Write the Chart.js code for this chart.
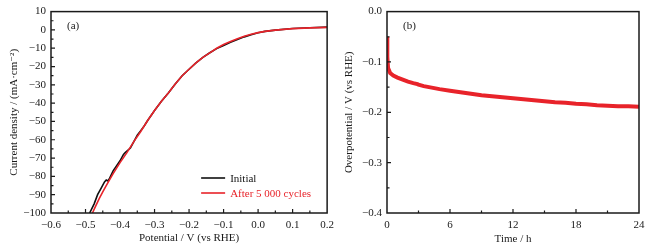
<!DOCTYPE html>
<html>
<head>
<meta charset="utf-8">
<script src="https://cdn.jsdelivr.net/npm/chart.js@4"></script>
<style>
  html, body { margin: 0; padding: 0; background: #fff; }
  #wrap { position: relative; width: 654px; height: 252px; overflow: hidden; }
  .pane { position: absolute; top: 0; height: 252px; }
  #paneA { left: 0; width: 340px; }
  #paneB { left: 335px; width: 319px; }
</style>
</head>
<body>
<div id="wrap">
  <div class="pane" id="paneA"><canvas id="chartA"></canvas></div>
  <div class="pane" id="paneB"><canvas id="chartB"></canvas></div>
</div>
<script>
// (a) polarization curves, potential V vs RHE / current density mA cm-2
const initialV = [-0.488, -0.475, -0.465, -0.455, -0.445, -0.44, -0.435, -0.43, -0.42, -0.40, -0.39, -0.385, -0.37, -0.36, -0.35, -0.34, -0.33, -0.32, -0.30, -0.28, -0.26, -0.24, -0.22, -0.20, -0.18, -0.16, -0.14, -0.12, -0.10, -0.08, -0.06, -0.04, -0.02, 0.00, 0.02, 0.05, 0.10, 0.15, 0.20];
const initialJ = [-100, -95, -90, -86.5, -83, -82, -82.5, -81, -77, -71.5, -68, -67, -64.5, -61, -57.5, -55, -52.5, -49.5, -44, -39, -34.5, -29.5, -25, -21.5, -18, -15, -12.5, -10.2, -8.5, -6.8, -5.2, -3.8, -2.6, -1.6, -0.8, -0.1, 0.8, 1.2, 1.5];

const cycledV = [-0.48, -0.47, -0.46, -0.45, -0.44, -0.42, -0.40, -0.38, -0.36, -0.34, -0.32, -0.30, -0.28, -0.26, -0.24, -0.22, -0.20, -0.18, -0.16, -0.14, -0.12, -0.10, -0.08, -0.06, -0.04, -0.02, 0.00, 0.02, 0.05, 0.10, 0.15, 0.20];
const cycledJ = [-100, -96, -92, -88.5, -85, -78.5, -72.5, -67, -61, -55.5, -49.5, -44, -39, -34.5, -29.5, -25, -21.5, -18, -15, -12.5, -10, -8, -6.3, -4.8, -3.5, -2.4, -1.5, -0.8, -0.1, 0.7, 1.1, 1.4];

// (b) stability test, time h / overpotential V vs RHE
const timeH = [0, 0.03, 0.1, 0.3, 0.6, 1, 1.5, 2, 2.5, 2.9, 3.0, 3.5, 4, 5, 6, 7, 8, 9, 10, 11, 12, 13, 14, 15, 16, 17, 18, 19, 20, 21, 22, 23, 24];
const overpot = [-0.05, -0.09, -0.112, -0.122, -0.127, -0.131, -0.135, -0.139, -0.142, -0.144, -0.145, -0.148, -0.150, -0.154, -0.157, -0.160, -0.163, -0.166, -0.168, -0.170, -0.172, -0.174, -0.176, -0.178, -0.180, -0.181, -0.183, -0.184, -0.186, -0.187, -0.188, -0.188, -0.189];

const serif = "'Liberation Serif', 'DejaVu Serif', serif";
const ink = '#1a1a1a';
const red = '#e8232a';

function pts(xs, ys) { return xs.map((x, i) => ({ x: x, y: ys[i] })); }
function fmt(v, dec) {
  const s = Math.abs(v).toFixed(dec);
  return (v < -1e-9 ? '\u2212' : '') + s;
}

// box + inward major/minor ticks + panel letter
const frame = {
  id: 'frame',
  afterDatasetsDraw(chart, args, o) {
    const { ctx, chartArea: a, scales } = chart;
    const x = scales.x, y = scales.y;
    ctx.save();
    ctx.strokeStyle = ink;
    ctx.lineWidth = 1.2;
    ctx.beginPath();
    let n = Math.round((x.max - x.min) / (o.xStep / 2));
    for (let i = 1; i < n; i++) {
      const px = x.getPixelForValue(x.min + i * o.xStep / 2);
      const len = i % 2 === 0 ? 4 : 2.5;
      ctx.moveTo(px, a.bottom);
      ctx.lineTo(px, a.bottom - len);
    }
    n = Math.round((y.max - y.min) / (o.yStep / 2));
    for (let i = 1; i < n; i++) {
      const py = y.getPixelForValue(y.min + i * o.yStep / 2);
      const len = i % 2 === 0 ? 4 : 2.5;
      ctx.moveTo(a.left, py);
      ctx.lineTo(a.left + len, py);
    }
    ctx.stroke();
    ctx.lineWidth = 1.5;
    ctx.strokeRect(a.left, a.top, a.right - a.left, a.bottom - a.top);
    ctx.fillStyle = ink;
    ctx.font = '11px ' + serif;
    ctx.textBaseline = 'middle';
    ctx.fillText(o.label, a.left + 16, a.top + 15);
    if (o.legend) {
      const ds = chart.data.datasets;
      let ly = a.bottom - 35;
      const lx = a.right - 126;
      ds.forEach(d => {
        ctx.strokeStyle = d.borderColor;
        ctx.lineWidth = 1.6;
        ctx.beginPath();
        ctx.moveTo(lx, ly);
        ctx.lineTo(lx + 24, ly);
        ctx.stroke();
        ctx.fillStyle = d.borderColor;
        ctx.fillText(d.label, lx + 29, ly + 1);
        ly += 15;
      });
    }
    ctx.restore();
  }
};

function axisTitle(text, pad) {
  return { display: true, text: text, color: ink, font: { family: serif, size: 11 }, padding: pad };
}

const chartA = new Chart(document.getElementById('chartA'), {
  type: 'line',
  data: {
    datasets: [
      { label: 'Initial', data: pts(initialV, initialJ), borderColor: '#111', borderWidth: 1.6, pointRadius: 0, order: 1 },
      { label: 'After 5 000 cycles', data: pts(cycledV, cycledJ), borderColor: red, borderWidth: 1.6, pointRadius: 0, order: 0 }
    ]
  },
  options: {
    responsive: true,
    maintainAspectRatio: false,
    animation: false,
    devicePixelRatio: 1,
    layout: { padding: { top: 10, right: 11, left: 0, bottom: 0 } },
    plugins: {
      legend: { display: false },
      tooltip: { enabled: false },
      frame: { label: '(a)', xStep: 0.1, yStep: 10, legend: true }
    },
    scales: {
      x: {
        type: 'linear', min: -0.6, max: 0.2,
        grid: { display: false, drawTicks: false },
        border: { display: false },
        ticks: { stepSize: 0.1, padding: 6, color: ink, font: { family: serif, size: 11 }, callback: v => fmt(v, 1) },
        title: axisTitle('Potential / V (vs RHE)', { top: 0, bottom: 7 }),
        afterFit: s => { s.height = 39; }
      },
      y: {
        type: 'linear', min: -100, max: 10,
        grid: { display: false, drawTicks: false },
        border: { display: false },
        ticks: { stepSize: 10, padding: 5, color: ink, font: { family: serif, size: 11 }, callback: v => fmt(v, 0) },
        title: axisTitle('Current density / (mA\u00b7cm\u207b\u00b2)', { top: 8, bottom: 0 }),
        afterFit: s => { s.width = 51; }
      }
    }
  },
  plugins: [frame]
});

const chartB = new Chart(document.getElementById('chartB'), {
  type: 'line',
  data: {
    datasets: [
      { label: 'Overpotential', data: pts(timeH, overpot), borderColor: red, borderWidth: 4, pointRadius: 0 }
    ]
  },
  options: {
    responsive: true,
    maintainAspectRatio: false,
    animation: false,
    devicePixelRatio: 1,
    layout: { padding: { top: 10, right: 15, left: 0, bottom: 0 } },
    plugins: {
      legend: { display: false },
      tooltip: { enabled: false },
      frame: { label: '(b)', xStep: 6, yStep: 0.1, legend: false }
    },
    scales: {
      x: {
        type: 'linear', min: 0, max: 24,
        grid: { display: false, drawTicks: false },
        border: { display: false },
        ticks: { stepSize: 6, padding: 6, color: ink, font: { family: serif, size: 11 }, callback: v => fmt(v, 0) },
        title: axisTitle('Time / h', { top: 0, bottom: 6 }),
        afterFit: s => { s.height = 39; }
      },
      y: {
        type: 'linear', min: -0.4, max: 0,
        grid: { display: false, drawTicks: false },
        border: { display: false },
        ticks: { stepSize: 0.1, padding: 5, color: ink, font: { family: serif, size: 11 }, callback: v => fmt(v, 1) },
        title: axisTitle('Overpotential / V (vs RHE)', { top: 8, bottom: 0 }),
        afterFit: s => { s.width = 52; }
      }
    }
  },
  plugins: [frame]
});
</script>
</body>
</html>
